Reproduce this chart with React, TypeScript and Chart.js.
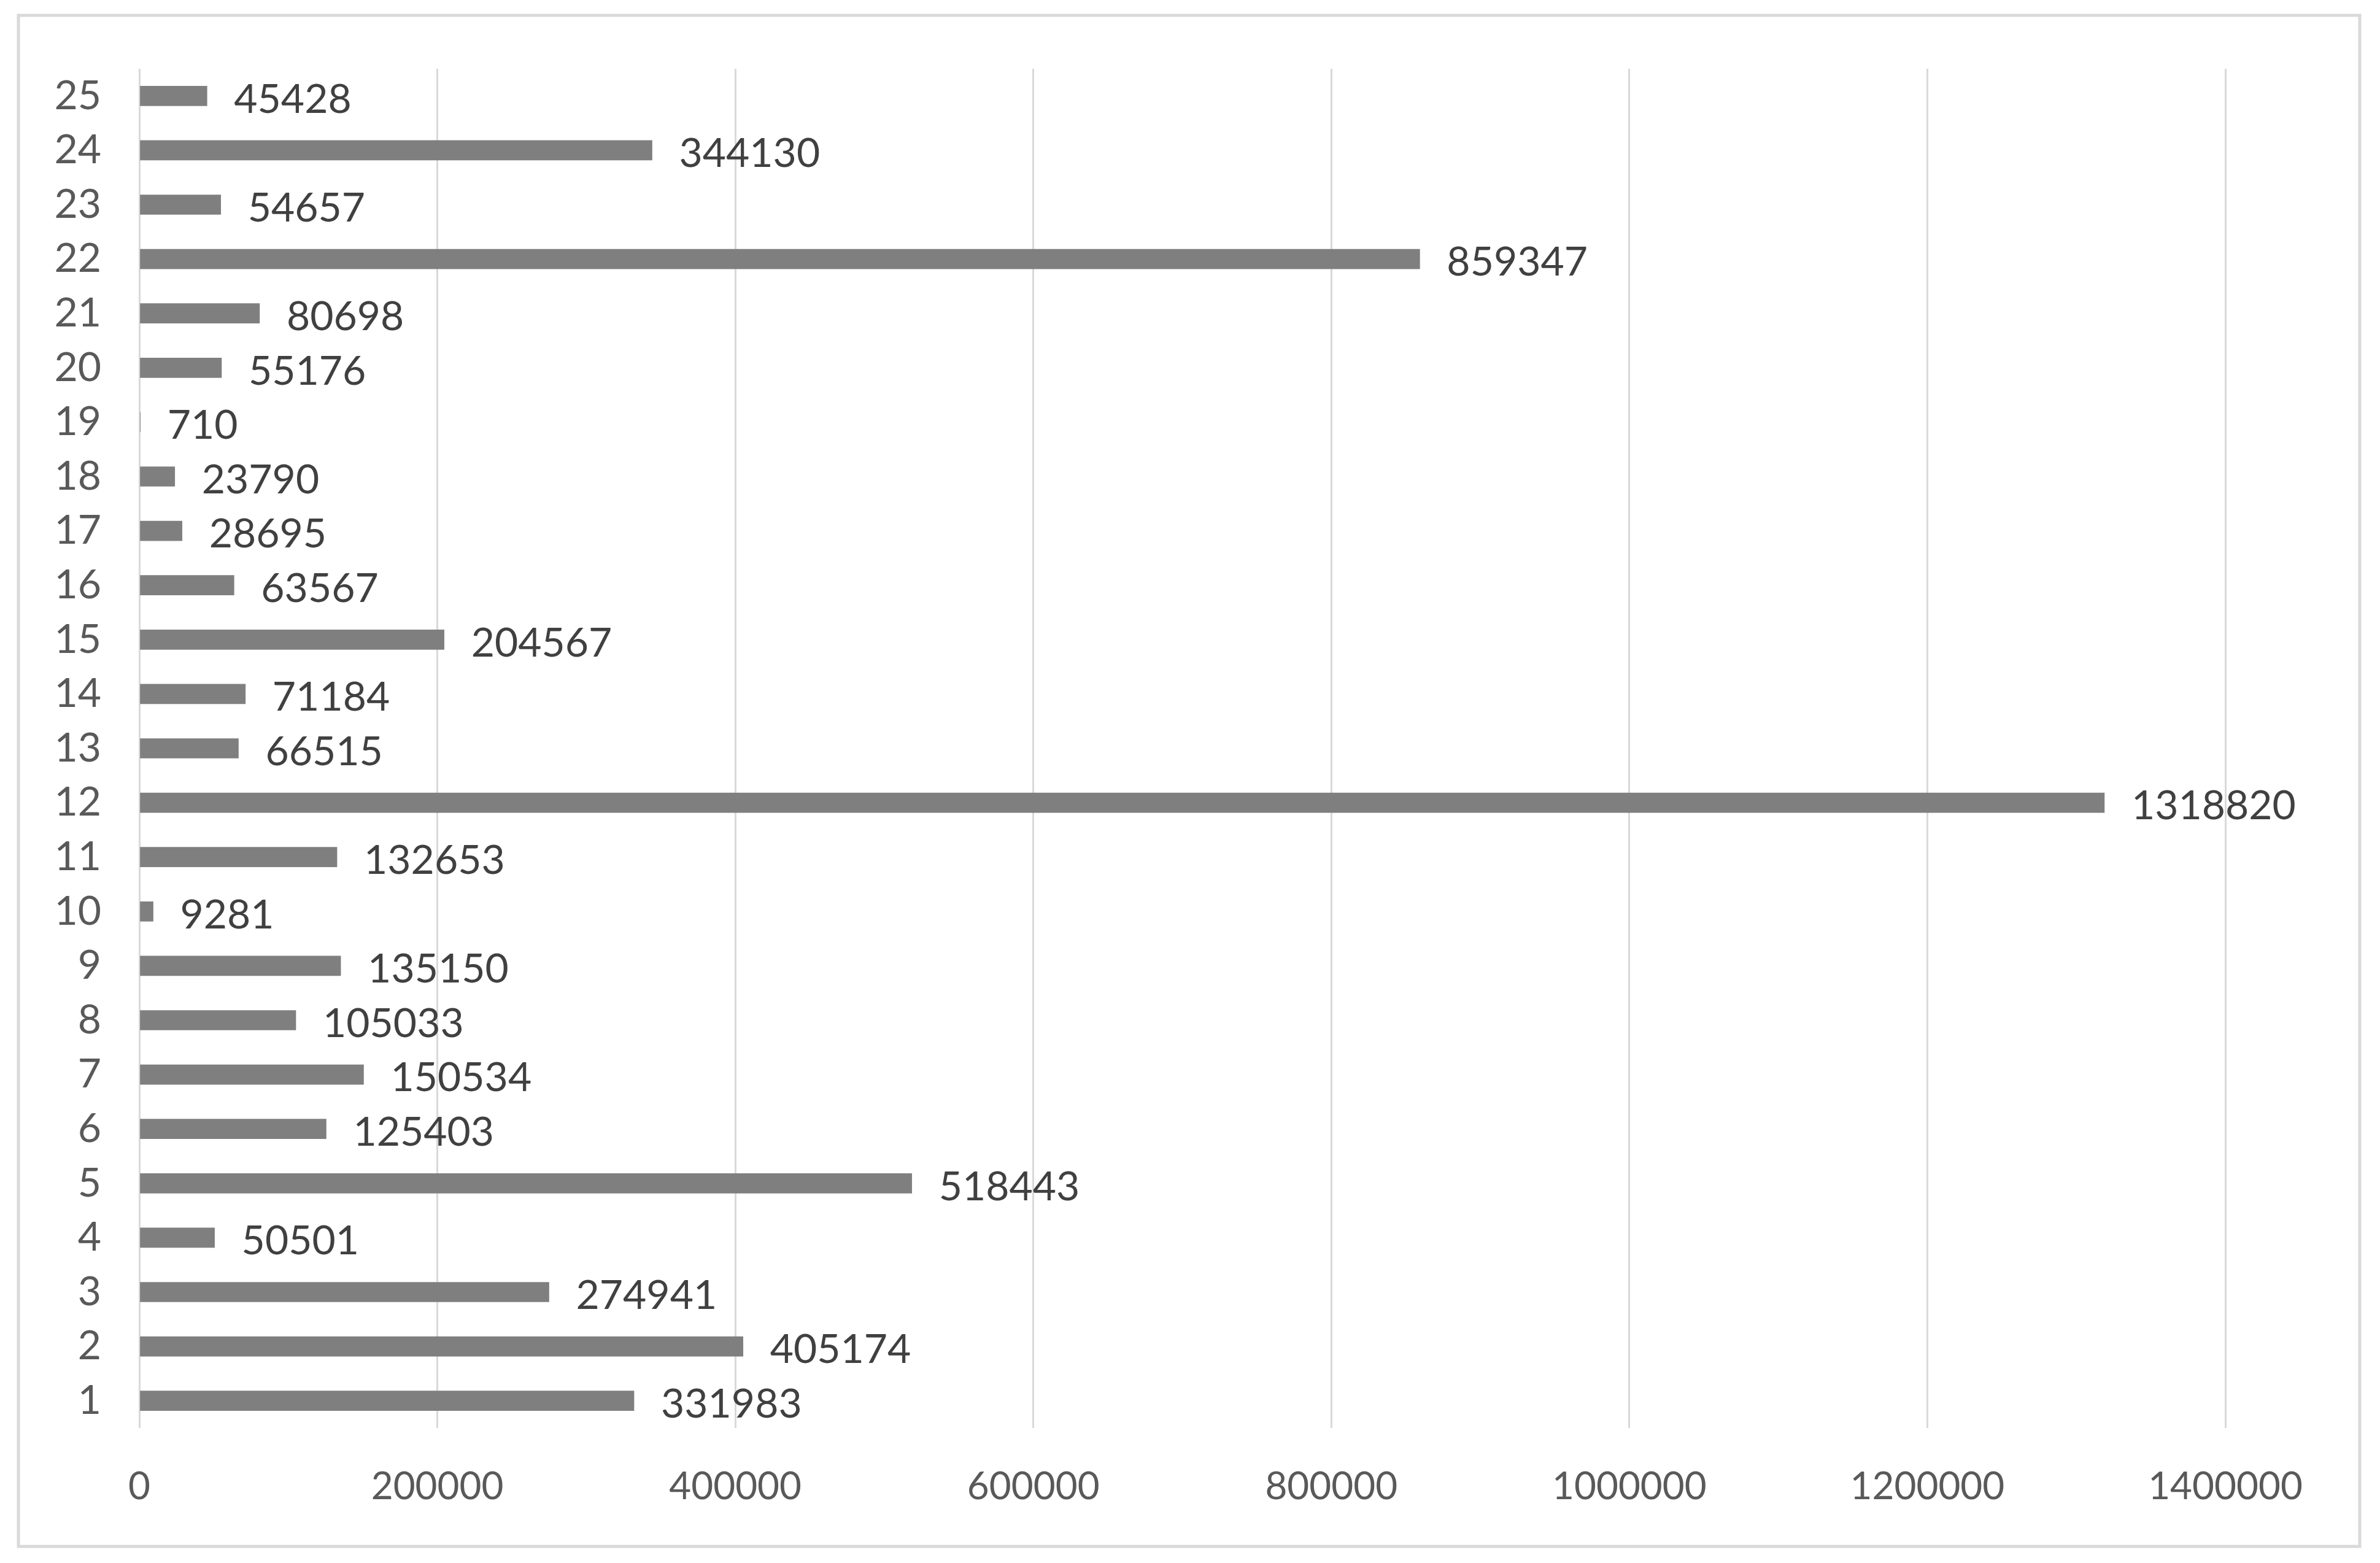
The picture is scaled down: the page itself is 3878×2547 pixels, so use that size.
import React, { useEffect, useRef } from "react";
import { Chart, registerables } from "chart.js";

Chart.register(...registerables);

const categories = ["1","2","3","4","5","6","7","8","9","10","11","12","13","14","15","16","17","18","19","20","21","22","23","24","25"];
const values = [331983, 405174, 274941, 50501, 518443, 125403, 150534, 105033, 135150, 9281, 132653, 1318820, 66515, 71184, 204567, 63567, 28695, 23790, 710, 55176, 80698, 859347, 54657, 344130, 45428];
const xMin = 0;
const xMax = 1400000;
const xStep = 200000;

const FONT = "Lato, 'Open Sans', sans-serif";

const borderPlugin = {
  id: "outerBorder",
  beforeDraw(chart: any) {
    const ctx = chart.ctx;
    ctx.save();
    ctx.fillStyle = "#ffffff";
    ctx.fillRect(0, 0, chart.width, chart.height);
    ctx.strokeStyle = "#d9d9d9";
    ctx.lineWidth = 5;
    ctx.strokeRect(30, 25, 3815, 2495);
    ctx.restore();
  },
};

const labelPlugin = {
  id: "valueLabels",
  afterDatasetsDraw(chart: any) {
    const ctx = chart.ctx;
    const meta = chart.getDatasetMeta(0);
    const data = chart.data.datasets[0].data as number[];
    ctx.save();
    ctx.font = `66px ${FONT}`;
    ctx.fillStyle = "#404040";
    ctx.textAlign = "left";
    ctx.textBaseline = "middle";
    meta.data.forEach((el: any, i: number) => {
      ctx.fillText(String(data[i]), el.x + 44, el.y + 6);
    });
    ctx.restore();
  },
};

export default function App() {
  const ref = useRef<HTMLCanvasElement | null>(null);
  useEffect(() => {
    if (!ref.current) return;
    const chart = new Chart(ref.current, {
      type: "bar",
      data: {
        labels: categories,
        datasets: [
          {
            data: values,
            backgroundColor: "#7f7f7f",
            borderWidth: 0,
            barThickness: 32,
          },
        ],
      },
      options: {
        indexAxis: "y",
        responsive: false,
        animation: false,
        devicePixelRatio: 1,
        layout: { padding: { top: 112, right: 252, bottom: 0, left: 0 } },
        plugins: { legend: { display: false }, tooltip: { enabled: false } },
        scales: {
          x: {
            min: xMin,
            max: xMax,
            ticks: {
              stepSize: xStep,
              color: "#595959",
              font: { family: FONT, size: 62 },
              padding: 59,
              maxRotation: 0,
              autoSkip: false,
              callback: (v: any) => String(v),
            },
            grid: { color: "#d9d9d9", lineWidth: 3, drawTicks: false },
            border: { display: false },
            afterFit(scale: any) {
              scale.height = 220;
            },
          },
          y: {
            reverse: true,
            ticks: {
              color: "#595959",
              font: { family: FONT, size: 66 },
              padding: 62,
              autoSkip: false,
            },
            grid: { display: false, drawTicks: false },
            border: { display: false },
            afterFit(scale: any) {
              scale.width = 227;
            },
          },
        },
      },
      plugins: [borderPlugin, labelPlugin],
    });
    return () => chart.destroy();
  }, []);
  return (
    <div style={{ position: "absolute", left: 0, top: 0, width: 3878, height: 2547 }}>
      <canvas ref={ref} width={3878} height={2547} style={{ display: "block" }} />
    </div>
  );
}
